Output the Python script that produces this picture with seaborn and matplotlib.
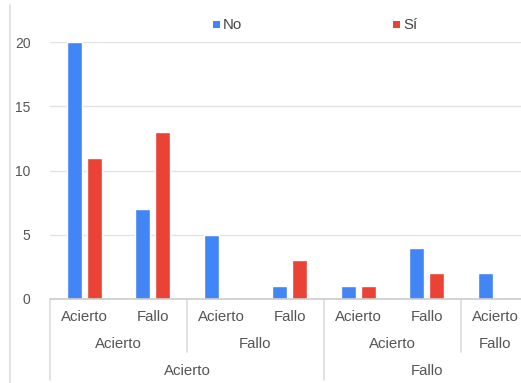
import matplotlib
matplotlib.use("Agg")
import matplotlib.pyplot as plt
import matplotlib.transforms as mtransforms
from matplotlib.patches import Rectangle
from matplotlib.lines import Line2D
import seaborn as sns
import pandas as pd

# Three-level category hierarchy (outer, middle, inner) for each bar group
level3 = ["Acierto", "Acierto", "Acierto", "Acierto", "Fallo", "Fallo", "Fallo"]
level2 = ["Acierto", "Acierto", "Fallo", "Fallo", "Acierto", "Acierto", "Fallo"]
level1 = ["Acierto", "Fallo", "Acierto", "Fallo", "Acierto", "Fallo", "Acierto"]
series_names = ["No", "Sí"]
values_no = [20, 7, 5, 1, 1, 4, 2]
values_si = [11, 13, 0, 3, 1, 2, 0]
y_ticks = [0, 5, 10, 15, 20]

colors = {"No": "#4285F4", "Sí": "#EA4335"}
text_color = "#555555"

keys = [f"{a}|{b}|{c}" for a, b, c in zip(level3, level2, level1)]
df = pd.DataFrame({
    "grupo": keys * 2,
    "serie": ["No"] * len(keys) + ["Sí"] * len(keys),
    "valor": values_no + values_si,
})

sns.set_theme(style="white")
plt.rcParams["font.family"] = ["Liberation Sans", "DejaVu Sans"]

W, H = 521, 383
fig = plt.figure(figsize=(W / 100, H / 100), dpi=100)
x0, ybase, ytop = 50, 299, 42
ax = fig.add_axes([x0 / W, (H - ybase) / H, (W - x0) / W, (ybase - ytop) / H])

sns.barplot(data=df, x="grupo", y="valor", hue="serie", order=keys,
            hue_order=series_names, palette=colors, width=0.584, gap=0.23,
            saturation=1, legend=False, ax=ax)

slot = 68.5
ax.set_xlim(-0.5, (W - x0) / slot - 0.5)
ax.set_ylim(0, 20)
ax.set_yticks(y_ticks)
ax.set_yticklabels([str(t) for t in y_ticks], fontsize=10, color=text_color)
ax.tick_params(axis="y", length=0, pad=14)
ax.set_xticks([])
ax.set_xlabel("")
ax.set_ylabel("")
for s in ax.spines.values():
    s.set_visible(False)
ax.grid(False)
for t in y_ticks[1:]:
    ax.axhline(t, color="#e3e3e3", lw=1, zorder=0)
ax.axhline(0, color="#cccccc", lw=1.2, zorder=3, clip_on=False)

trans = mtransforms.blended_transform_factory(ax.transData, ax.transAxes)
span = ybase - ytop
def ay(py):
    return -(py - ybase) / span

fs = 10.8
# innermost labels
for i, lab in enumerate(level1):
    ax.text(i, ay(317), lab, transform=trans, ha="center", va="center",
            fontsize=fs, color=text_color, clip_on=False)

def runs(labels, parents=None):
    out = []
    start = 0
    for i in range(1, len(labels) + 1):
        if i == len(labels) or labels[i] != labels[start] or (
                parents is not None and parents[i] != parents[start]):
            out.append((start, i - 1, labels[start]))
            start = i
    return out

# middle level
for a, b, lab in runs(level2, level3):
    ax.text((a + b) / 2, ay(344), lab, transform=trans, ha="center",
            va="center", fontsize=fs, color=text_color, clip_on=False)
    if a > 0:
        deep = level3[a] != level3[a - 1]
        ax.plot([a - 0.5, a - 0.5], [0, ay(380 if deep else 352)],
                transform=trans, color="#dddddd", lw=1.2, clip_on=False)

# outer level
for a, b, lab in runs(level3):
    ax.text((a + b) / 2, ay(371), lab, transform=trans, ha="center",
            va="center", fontsize=fs, color=text_color, clip_on=False)
ax.plot([-0.5, -0.5], [0, ay(380)], transform=trans, color="#dddddd",
        lw=1.2, clip_on=False)

# frame line on the left edge
fig.add_artist(Line2D([10 / W, 10 / W], [0, 1 - 5 / H], color="#dddddd", lw=1.2))

# legend along the top
for name, px in zip(series_names, [213, 393]):
    fig.add_artist(Rectangle((px / W, 1 - 28 / H), 7 / W, 7 / H,
                             color=colors[name], lw=0))
    fig.text((px + 10) / W, 1 - 25 / H, name, ha="left", va="center",
             fontsize=fs, color="#444444")

fig.savefig("out.png", dpi=100)
